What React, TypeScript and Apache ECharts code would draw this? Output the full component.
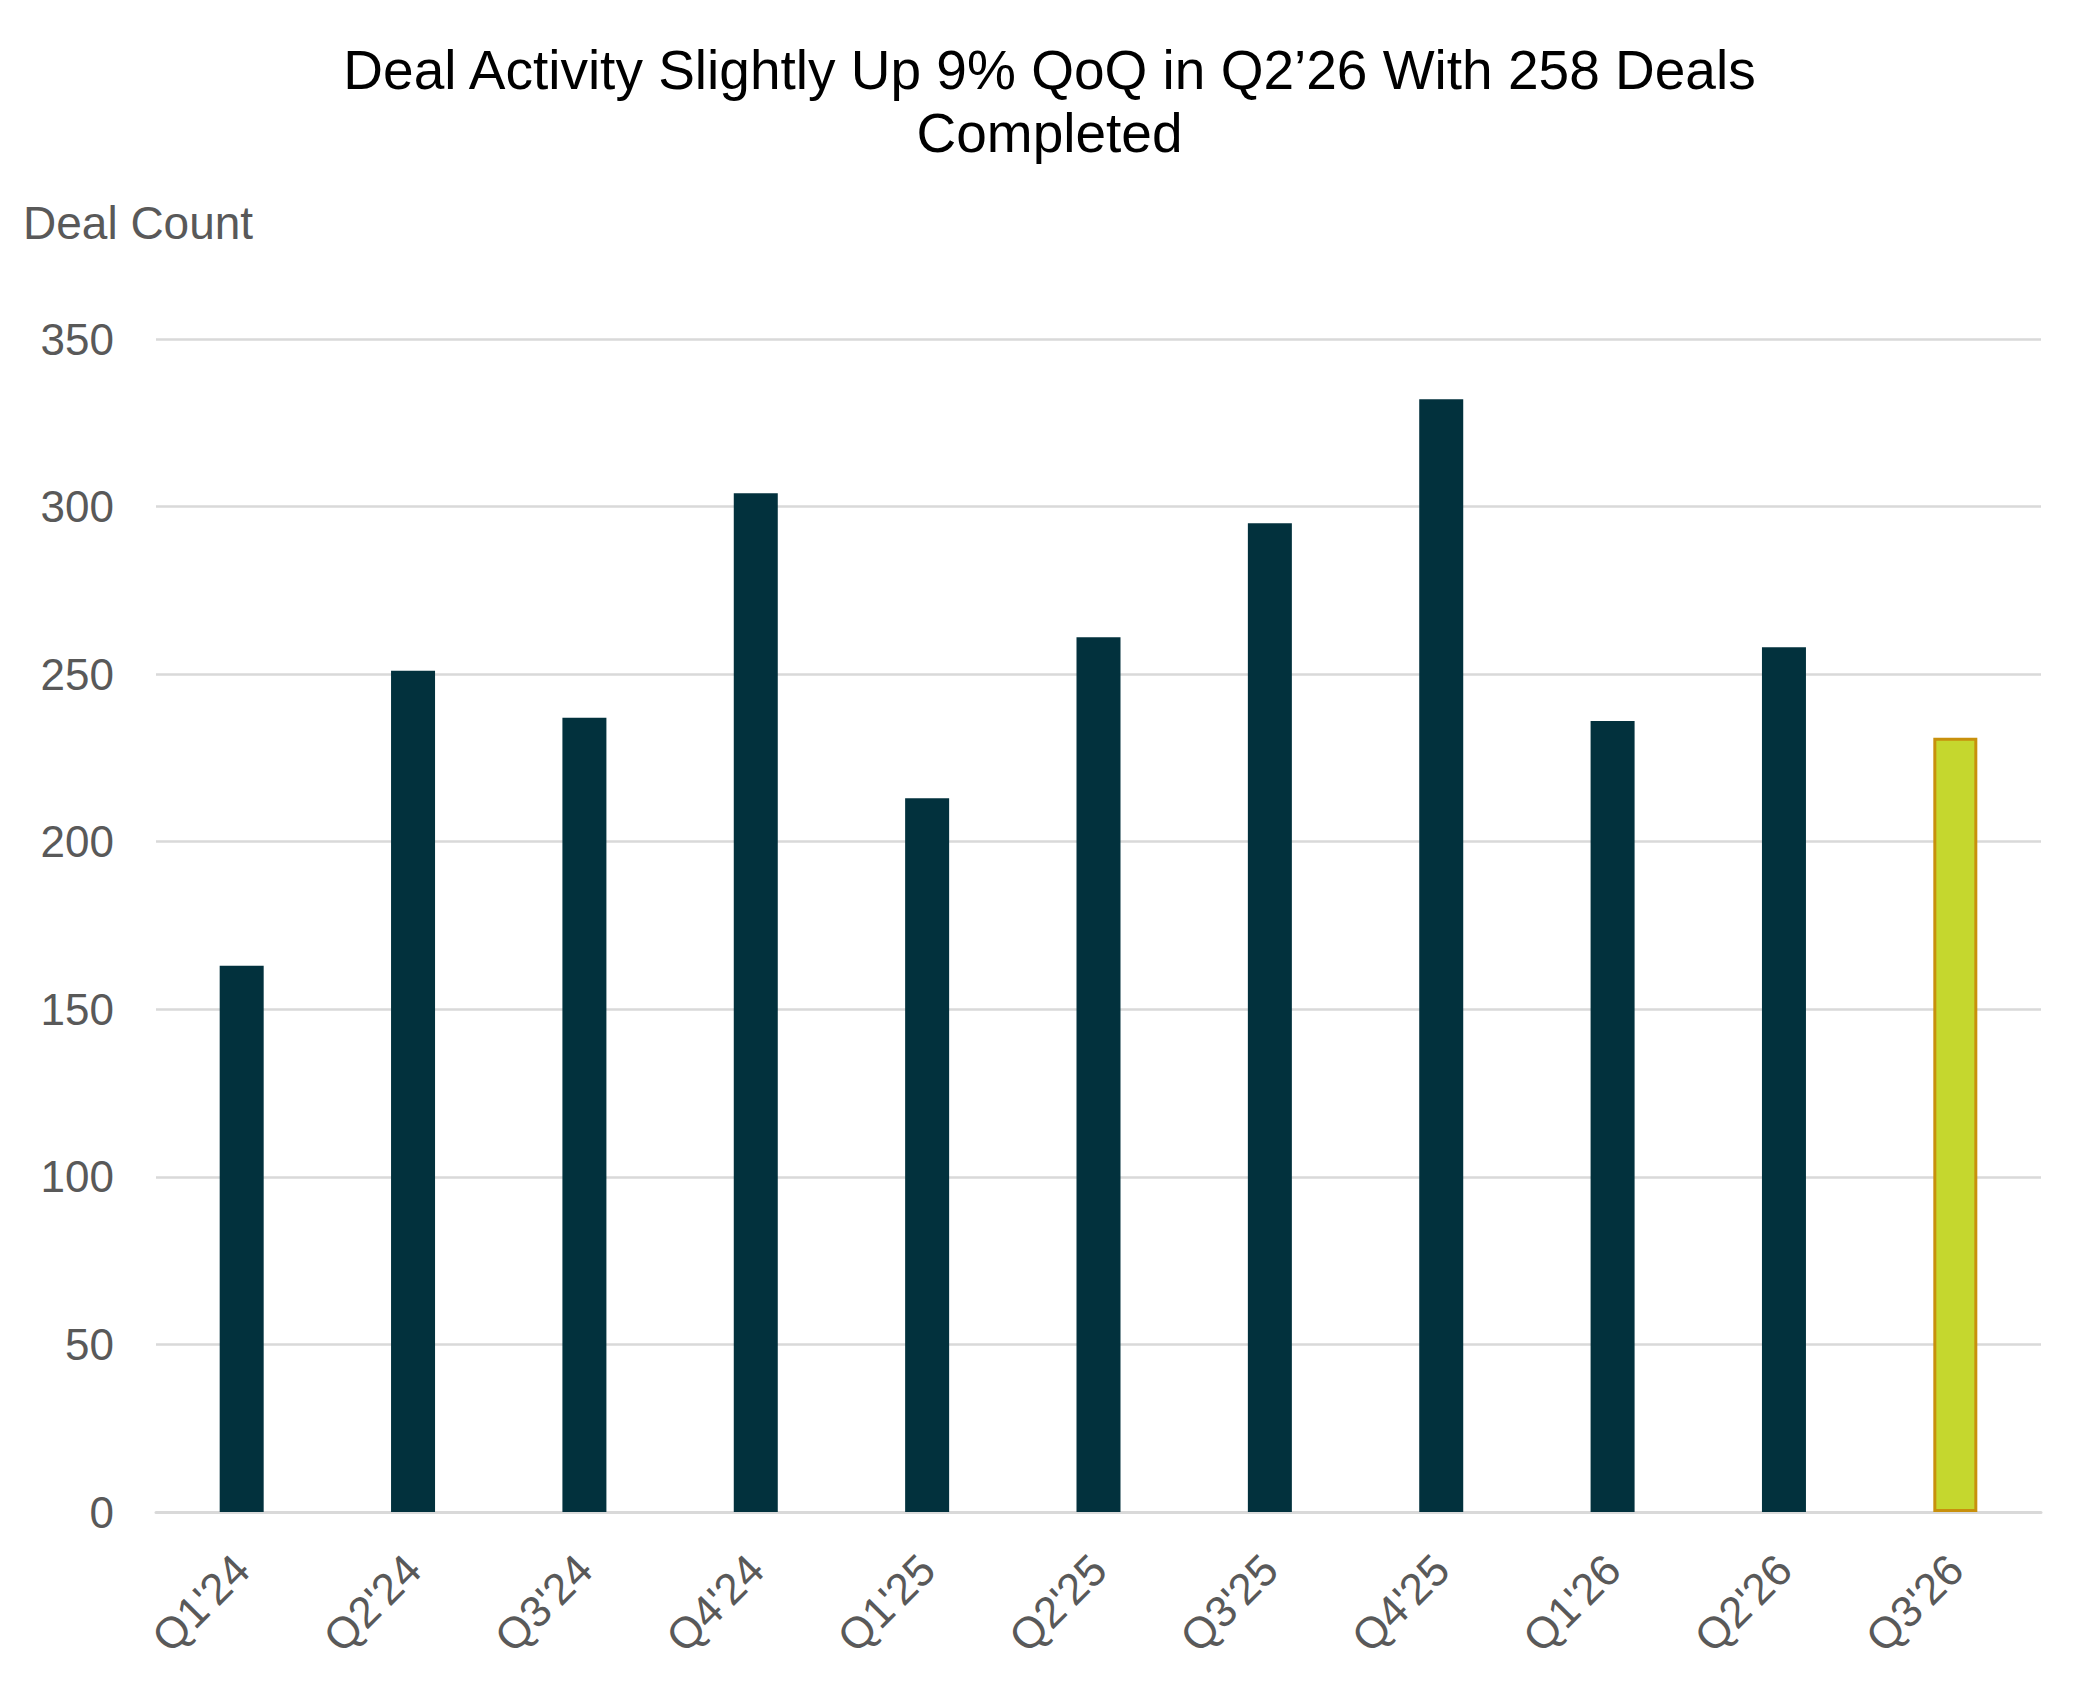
import React, { useEffect, useRef } from "react";
import * as echarts from "echarts";

const categories = ["Q1'24", "Q2'24", "Q3'24", "Q4'24", "Q1'25", "Q2'25", "Q3'25", "Q4'25", "Q1'26", "Q2'26", "Q3'26"];
const dealCounts = [163, 251, 237, 304, 213, 261, 295, 332, 236, 258, 231];
const highlightIndex = 10;
const yTicks = [0, 50, 100, 150, 200, 250, 300, 350];
const titleText = "Deal Activity Slightly Up 9% QoQ in Q2\u201926 With 258 Deals\nCompleted";
const yAxisTitle = "Deal Count";

const FONT = "'Liberation Sans', Arial, Helvetica, sans-serif";

export default function App() {
  const ref = useRef<HTMLDivElement>(null);
  useEffect(() => {
    if (!ref.current) return;
    const chart = echarts.init(ref.current, null, { renderer: "svg" });
    chart.setOption({
      animation: false,
      backgroundColor: "#ffffff",
      title: {
        text: titleText,
        left: "center",
        top: 25,
        textStyle: {
          fontFamily: FONT,
          fontSize: 55,
          fontWeight: "normal",
          color: "#000000",
          lineHeight: 63,
        },
      },
      graphic: [
        {
          type: "text",
          left: 15,
          top: 192,
          style: {
            text: yAxisTitle,
            fontFamily: FONT,
            fontSize: 46,
            fill: "#595959",
          },
        },
      ],
      grid: { left: 148, right: 50, top: 331, bottom: 185, containLabel: false },
      xAxis: {
        type: "category",
        data: categories,
        axisLine: { show: true, lineStyle: { color: "#d9d9d9", width: 3 } },
        axisTick: { show: false },
        axisLabel: {
          rotate: 45,
          margin: 50,
          color: "#595959",
          fontFamily: FONT,
          fontSize: 44,
          interval: 0,
        },
      },
      yAxis: {
        type: "value",
        min: yTicks[0],
        max: yTicks[yTicks.length - 1],
        interval: 50,
        axisLine: { show: false },
        axisTick: { show: false },
        splitLine: { show: true, lineStyle: { color: "#d9d9d9", width: 2.5 } },
        axisLabel: {
          margin: 42,
          color: "#595959",
          fontFamily: FONT,
          fontSize: 44,
        },
      },
      series: [
        {
          type: "bar",
          barWidth: 44,
          data: dealCounts.map((v, i) =>
            i === highlightIndex
              ? {
                  value: v,
                  itemStyle: { color: "#c5d72e", borderColor: "#c8900c", borderWidth: 3 },
                }
              : { value: v, itemStyle: { color: "#02313d" } }
          ),
        },
      ],
    });
    return () => chart.dispose();
  }, []);
  return <div ref={ref} style={{ width: 2083, height: 1689 }} />;
}
